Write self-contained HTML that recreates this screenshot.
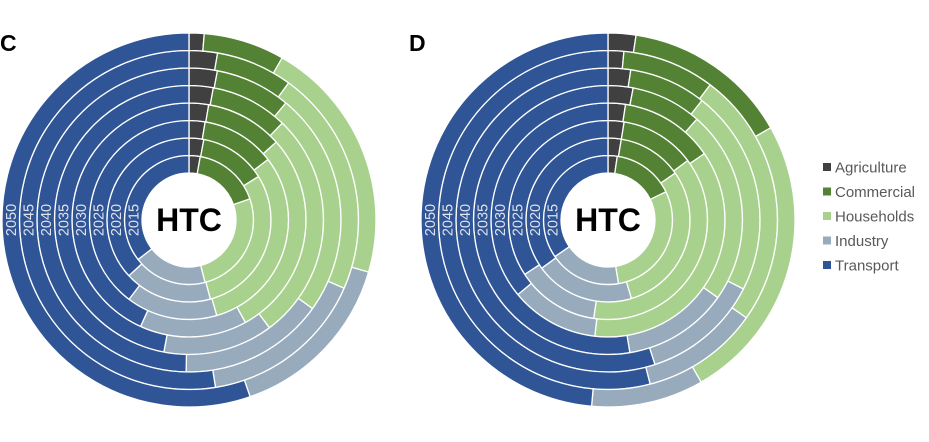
<!DOCTYPE html>
<html><head><meta charset="utf-8"><style>
body{margin:0;background:#fff;width:929px;height:437px;overflow:hidden;font-family:"Liberation Sans",Arial,sans-serif}
</style></head><body>
<svg id="chart" width="929" height="437" viewBox="0 0 929 437" xmlns="http://www.w3.org/2000/svg"></svg>
<script>
const years = ["2015","2020","2025","2030","2035","2040","2045","2050"];
const sectors = ["Agriculture","Commercial","Households","Industry","Transport"];
const colors = ["#404040","#548235","#a9d18e","#97abbd","#2f5597"];
// shares (%) per year ring, panel C
const agriC = [2.8,2.9,2.6,2.7,2.9,3.0,2.7,1.3];
const commC = [16.9,13.2,12.0,10.7,9.3,8.0,7.3,7.0];
const housC = [26.3,29.7,30.9,28.6,27.6,23.9,21.6,21.2];
const indC  = [18.5,17.3,14.8,14.8,13.2,15.4,15.9,15.2];
const tranC = [35.5,36.9,39.7,43.2,47.0,49.7,52.5,55.3];
// panel D
const agriD = [2.3,2.6,2.6,2.4,3.0,2.4,1.5,2.4];
const commD = [15.5,12.7,12.2,13.0,8.5,8.2,8.8,14.4];
const housD = [29.6,30.1,37.5,36.4,23.3,21.9,24.5,24.9];
const indD  = [18.0,19.6,13.5,12.2,12.6,12.5,11.2,9.7];
const tranD = [34.6,35.0,34.2,36.0,52.6,55.0,54.0,48.6];

const NS="http://www.w3.org/2000/svg";
const svg=document.getElementById('chart');
function mk(tag,attrs){const e=document.createElementNS(NS,tag);for(const k in attrs)e.setAttribute(k,attrs[k]);return e;}
const R0=47, RW=17.5;
function pt(cx,cy,r,f){const a=f*2*Math.PI;return [cx+r*Math.sin(a),cy-r*Math.cos(a)];}
function arc(cx,cy,r1,r2,f1,f2){
  const large=(f2-f1)>0.5?1:0;
  const [x1,y1]=pt(cx,cy,r2,f1),[x2,y2]=pt(cx,cy,r2,f2),[x3,y3]=pt(cx,cy,r1,f2),[x4,y4]=pt(cx,cy,r1,f1);
  return `M${x1},${y1}A${r2},${r2} 0 ${large} 1 ${x2},${y2}L${x3},${y3}A${r1},${r1} 0 ${large} 0 ${x4},${y4}Z`;
}
function panel(cx,cy,series,letter,id){
  const g=mk('g',{});
  
  
  svg.appendChild(g);
  years.forEach((y,i)=>{
    const tot=series.reduce((s,a)=>s+a[i],0);
    let c=0;
    series.forEach((a,k)=>{
      const f1=c/tot; c+=a[i]; const f2=c/tot;
      const p=mk('path',{d:arc(cx,cy,R0+RW*i,R0+RW*(i+1),f1,f2),fill:colors[k],stroke:'#fff','stroke-width':'1.3'});
      
      
      g.appendChild(p);
    });
  });
  years.forEach((y,i)=>{
    const x=cx-(R0+RW*i+RW/2)+5;
    const t=mk('text',{x:x,y:cy,transform:`rotate(-90 ${x} ${cy})`,'text-anchor':'middle','font-size':'14.5',fill:'#dfe3ee'});
    t.textContent=y;
    
    
    g.appendChild(t);
  });
  const h=mk('text',{x:cx,y:cy+11,'text-anchor':'middle','font-size':'32','font-weight':'bold',fill:'#000'});
  h.textContent='HTC';
  
  
  g.appendChild(h);
  const L=mk('text',{x:letter[1],y:51,'font-size':'23','font-weight':'bold',fill:'#000'});
  L.textContent=letter[0];
  
  
  svg.appendChild(L);
}
panel(189,220,[agriC,commC,housC,indC,tranC],['C',0],'c');
panel(608,220,[agriD,commD,housD,indD,tranD],['D',409],'d');
sectors.forEach((s,k)=>{
  const y=167+k*24.5;
  const r=mk('rect',{x:823,y:y-4,width:8,height:8,fill:colors[k]});
  
  
  svg.appendChild(r);
  const t=mk('text',{x:835,y:y+5.5,'font-size':'15',fill:'#595959'});
  t.textContent=s;
  
  
  svg.appendChild(t);
});
</script>
</body></html>
